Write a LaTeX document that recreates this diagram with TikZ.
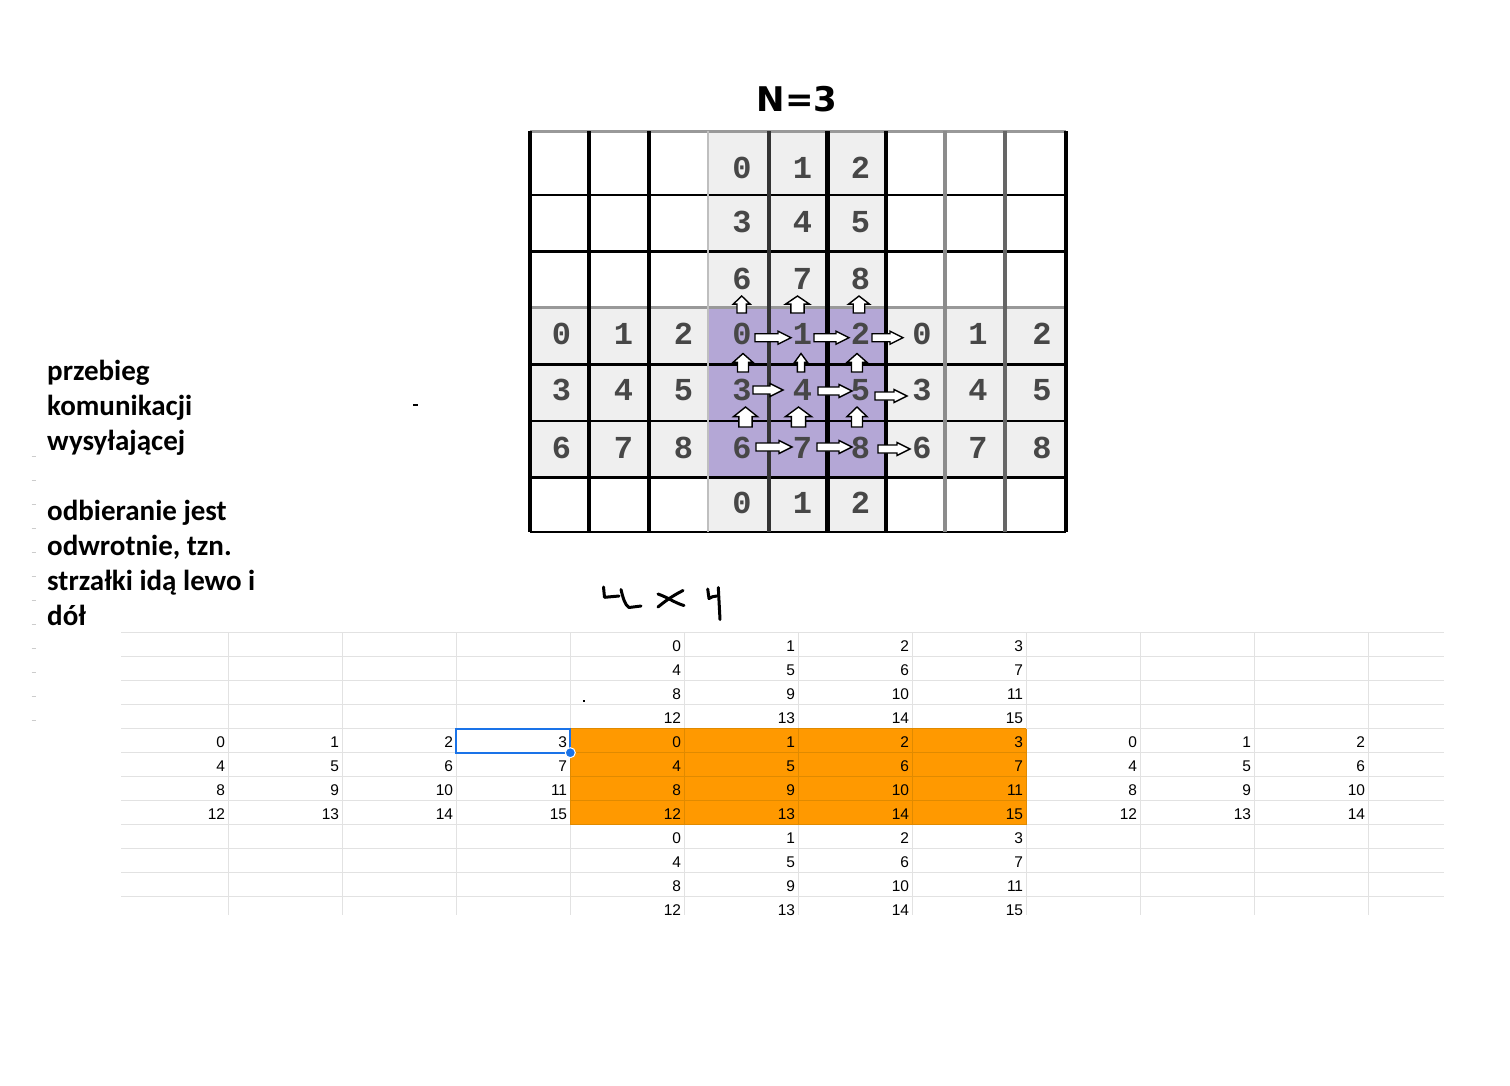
\documentclass[tikz,border=0pt]{standalone}
\usepackage{fontspec}
\newfontfamily\calfont{Carlito}
\newfontfamily\arialf{Liberation Sans}
\newfontfamily\monof{Liberation Mono}
\newfontfamily\dejaf{DejaVu Sans}
\newcommand\blkR[3]{%
  \draw[blk] (#1,{#3-4}) -- ({#2-13},{#3-4}) -- ({#2-13},{#3-6.5}) -- (#2,#3) -- ({#2-13},{#3+6.5}) -- ({#2-13},{#3+4}) -- (#1,{#3+4}) -- cycle;}
\newcommand\blkU[4]{%
  \draw[blk] ({#1-0.55*#4},#3) -- ({#1-0.55*#4},{#2+0.48*(#3-#2)}) -- ({#1-#4},{#2+0.48*(#3-#2)}) -- (#1,#2) -- ({#1+#4},{#2+0.48*(#3-#2)}) -- ({#1+0.55*#4},{#2+0.48*(#3-#2)}) -- ({#1+0.55*#4},#3) -- cycle;}
\definecolor{cellgray}{HTML}{EFEFEF}
\definecolor{cellpurple}{HTML}{B4A7D6}
\definecolor{sheetline}{HTML}{E2E2E2}
\definecolor{orangefill}{HTML}{FF9900}
\definecolor{orangeline}{HTML}{E08A00}
\definecolor{selblue}{HTML}{1A73E8}
\tikzset{
  blk/.style={draw=black, fill=white, line width=1.4pt, line join=miter},
  tdig/.style={font=\monof\bfseries\fontsize{32}{32}\selectfont, text=black!72, inner sep=0pt},
  sgrid/.style={draw=sheetline, line width=1pt},
  snum/.style={font=\arialf\fontsize{15.5}{16}\selectfont, inner sep=0pt, anchor=base east},
  ltxt/.style={font=\calfont\bfseries\fontsize{29}{35}\selectfont, inner sep=0pt, anchor=base west},
  hand/.style={draw=black, line width=3pt, line cap=round, line join=round},
}
\begin{document}
\begin{tikzpicture}[x=1pt,y=-1pt]
\useasboundingbox[fill=white] (0,0) rectangle (1510,1085);

% ---------- title ----------
\node[font=\dejaf\bfseries\fontsize{34}{34}\selectfont, inner sep=0pt] (title) at (797,98.7) {N=3};

% ---------- top grid fills ----------
\fill[cellgray] (708,131) rectangle (885.5,307.5);
\fill[cellgray] (530,307.5) rectangle (1066,477);
\fill[cellgray] (708,477) rectangle (885.5,532);
\fill[cellpurple] (708,307.5) rectangle (885.5,477);

% ---------- top grid lines ----------
\draw[black!40, line width=3pt] (530,131) -- (1066,131);
\draw[black, line width=1.3pt] (530,195) -- (1066,195);
\draw[black, line width=3pt] (530,251) -- (1066,251);
\draw[black!40, line width=3.5pt] (530,307.5) -- (1066,307.5);
\draw[black, line width=3pt] (530,364) -- (1066,364);
\draw[black, line width=1.3pt] (530,421) -- (1066,421);
\draw[black, line width=3pt] (530,477) -- (1066,477);
\draw[black, line width=2pt] (530,532) -- (1066,532);

\draw[black, line width=4pt] (530,131) -- (530,532);
\draw[black, line width=4pt] (589,131) -- (589,532);
\draw[black, line width=4pt] (648.6,131) -- (648.6,532);
\draw[black!25, line width=2pt] (708,131) -- (708,532);
\draw[black!80, line width=4pt] (768.5,131) -- (768.5,532);
\draw[black, line width=5pt] (827,131) -- (827,532);
\draw[black, line width=4pt] (885.5,131) -- (885.5,532);
\draw[black!45, line width=4pt] (945,131) -- (945,532);
\draw[black!60, line width=4pt] (1005,131) -- (1005,532);
\draw[black, line width=4pt] (1066,131) -- (1066,532);

% ---------- top grid digits ----------
\foreach \r/\y in {0/168,1/222,2/279} {
  \foreach \c/\x in {0/742,1/802.5,2/860.5} {
    \pgfmathtruncatemacro\n{3*\r+\c}
    \node[tdig] (t-\r-\c) at (\x,\y) {\n};
  }
}
\foreach \r/\y in {0/334,1/390,2/448} {
  \foreach \c/\xl/\xm/\xr in {0/561.5/742/922, 1/623.5/802.5/978, 2/683.5/860.5/1042} {
    \pgfmathtruncatemacro\n{3*\r+\c}
    \node[tdig] (l-\r-\c) at (\xl,\y) {\n};
    \node[tdig] (m-\r-\c) at (\xm,\y) {\n};
    \node[tdig] (r-\r-\c) at (\xr,\y) {\n};
  }
}
\foreach \c/\x in {0/742,1/802.5,2/860.5} {
  \node[tdig] (b-\c) at (\x,503) {\c};
}

% ---------- block arrows ----------
\blkR{755}{791}{337.7}
\blkR{814}{849}{337.7}
\blkR{872}{903}{337.7}
\blkR{753}{783}{390}
\blkR{818}{852}{391}
\blkR{875}{907}{396}
\blkR{756}{792}{447}
\blkR{817}{852}{447}
\blkR{878}{910}{449}

\blkU{741.7}{296}{313}{8.5}
\blkU{797.5}{296}{313}{12}
\blkU{859}{296}{313}{10.5}
\blkU{743}{353.5}{372}{10}
\blkU{801}{353.5}{372}{6.5}
\blkU{857}{353.5}{372}{10}
\blkU{745.5}{407}{427}{12}
\blkU{798.5}{407}{427}{13}
\blkU{857}{407}{427}{10}

% ---------- left text ----------
\node[ltxt] (p1) at (47,380) {przebieg};
\node[ltxt] (p2) at (47,415) {komunikacji};
\node[ltxt] (p3) at (47,450) {wysyłającej};
\node[ltxt] (p4) at (47,520) {odbieranie jest};
\node[ltxt] (p5) at (47,555) {odwrotnie, tzn.};
\node[ltxt] (p6) at (47,590.5) {strzałki idą lewo i};
\node[ltxt] (p7) at (47,625.5) {dół};

% small marks
\draw[black, line width=2pt] (413,405) -- (418,405);
\fill[black] (583,700) rectangle (585,702);
\foreach \y in {456,480,504,528,552,576,600,624,648,672,696,720} {
  \draw[black!20, line width=0.8pt] (31.7,\y) -- (35.7,\y);
}

% ---------- handwriting 4x4 ----------
\draw[hand] (603.5,587) -- (604.5,597.3) -- (619,596);
\draw[hand] (621,589.5) .. controls (623,598) and (625,605) .. (629,607.5) -- (641,606);
\draw[hand] (658,594) .. controls (667,597) and (675,603) .. (684,605.5);
\draw[hand] (683,590.5) .. controls (672,596) and (664,602) .. (658,607);
\draw[hand] (707.7,589) -- (709,598.5) .. controls (711,597) and (714,596) .. (717,596);
\draw[hand] (718.3,587.5) -- (720,619.5);

% ---------- spreadsheet ----------
\fill[orangefill] (570.3,728.7) rectangle (1026.3,824.7);
\foreach \k in {0,...,11} {
  \draw[sgrid] (121,{632.7+24*\k}) -- (1444,{632.7+24*\k});
}
\foreach \x in {228.3,342.3,456.3,570.3,684.3,798.3,912.3,1026.3,1140.3,1254.3,1368.3} {
  \draw[sgrid] (\x,632.7) -- (\x,915);
}
\foreach \k in {0,...,4} {
  \draw[orangeline, line width=1pt] (570.3,{728.7+24*\k}) -- (1026.3,{728.7+24*\k});
}
\foreach \x in {570.3,684.3,798.3,912.3,1026.3} {
  \draw[orangeline, line width=1pt] (\x,728.7) -- (\x,824.7);
}

% numbers: top block
\foreach \k in {0,...,3} {
  \foreach \c/\xr in {0/684.3,1/798.3,2/912.3,3/1026.3} {
    \pgfmathtruncatemacro\n{4*\k+\c}
    \node[snum] (st-\k-\c) at ({\xr-3},{656.7+24*\k-5.4}) {\n};
  }
}
% middle block
\foreach \k in {4,...,7} {
  \foreach \c/\xa/\xb in {0/228.3/684.3,1/342.3/798.3,2/456.3/912.3,3/570.3/1026.3} {
    \pgfmathtruncatemacro\n{4*(\k-4)+\c}
    \node[snum] (sl-\k-\c) at ({\xa-3},{656.7+24*\k-5.4}) {\n};
    \node[snum] (sm-\k-\c) at ({\xb-3},{656.7+24*\k-5.4}) {\n};
  }
  \foreach \c/\xa in {0/1140.3,1/1254.3,2/1368.3} {
    \pgfmathtruncatemacro\n{4*(\k-4)+\c}
    \node[snum] (sr-\k-\c) at ({\xa-3},{656.7+24*\k-5.4}) {\n};
  }
}
% bottom block
\foreach \k in {8,...,11} {
  \foreach \c/\xr in {0/684.3,1/798.3,2/912.3,3/1026.3} {
    \pgfmathtruncatemacro\n{4*(\k-8)+\c}
    \node[snum] (sb-\k-\c) at ({\xr-3},{656.7+24*\k-5.4}) {\n};
  }
}

% selection
\draw[selblue, line width=2pt] (456.3,728.7) rectangle (570.3,752.7);
\fill[selblue, draw=white, line width=1pt] (570.3,752.7) circle (5);
\end{tikzpicture}
\end{document}
